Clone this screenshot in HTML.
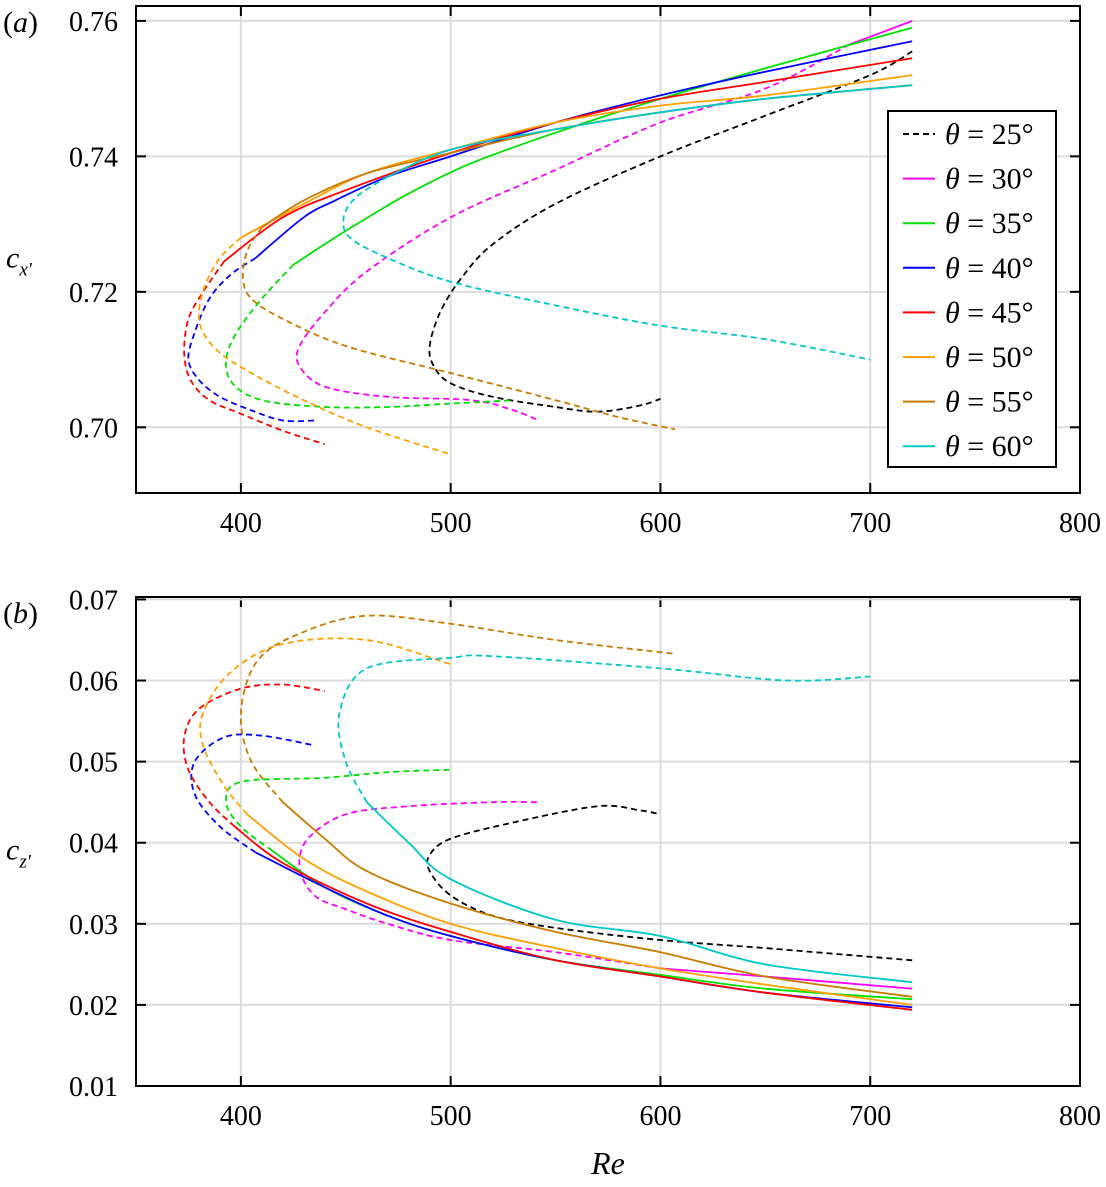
<!DOCTYPE html>
<html><head><meta charset="utf-8"><style>
body{margin:0;background:#fff}
svg{display:block;font-family:"Liberation Serif",serif}
</style></head><body>
<svg id="fig" width="1106" height="1187" viewBox="0 0 1106 1187" xmlns="http://www.w3.org/2000/svg"></svg>
<script>
const xTicks=[400,500,600,700,800];
const yTicksA=[0.70,0.72,0.74,0.76];
const yTicksB=[0.01,0.02,0.03,0.04,0.05,0.06,0.07];
const thetaLabels=[25,30,35,40,45,50,55,60];
const colors=["#000000","#ff00ff","#00e000","#0000ff","#ff0000","#ffa000","#c97a00","#00c8c8"];
// panel a: solid (Re, c) then dashed (Re, c)
const aSolidRe=[[],[720,690],[720,650,600,550,510,480,450,425],[720,650,600,550,500,470,445,430,407],[720,650,600,550,500,450,420,392],[720,650,600,550,500,460,430,400],[720,650,600,550,500,460,430,410],[720,650,600,550,500,470]];
const aSolidC=[[],[0.760,0.7565],[0.759,0.753,0.7485,0.7435,0.739,0.7345,0.729,0.724],[0.757,0.7525,0.749,0.745,0.740,0.737,0.7335,0.731,0.725],[0.7545,0.751,0.7485,0.745,0.7405,0.735,0.731,0.7245],[0.752,0.749,0.7475,0.745,0.741,0.7375,0.733,0.728],[0.7505,0.7485,0.7465,0.744,0.7405,0.7375,0.7335,0.7295],[0.7505,0.7485,0.7465,0.744,0.741,0.737]];
const aDashRe=[[720,700,650,600,550,520,505,495,490,492,500,520,550,570,590,600],[690,650,600,550,500,460,440,428,428,440,470,510,530,542],[425,410,398,393,396,410,440,470,500,530],[407,395,385,378,375,380,390,405,420,435],[392,382,375,373,376,385,400,420,440],[400,390,383,380,382,390,405,430,460,500],[410,403,401,405,420,450,500,550,580,607],[470,455,449,452,470,500,550,600,650,700]];
const aDashC=[[0.7555,0.752,0.746,0.740,0.733,0.727,0.722,0.717,0.712,0.709,0.7065,0.7045,0.703,0.7023,0.7032,0.7042],[0.7565,0.750,0.745,0.738,0.731,0.723,0.717,0.712,0.709,0.706,0.7045,0.704,0.7025,0.701],[0.724,0.719,0.714,0.710,0.7065,0.704,0.703,0.703,0.7035,0.704],[0.725,0.7225,0.719,0.714,0.710,0.707,0.7045,0.7025,0.701,0.701],[0.7245,0.720,0.716,0.711,0.707,0.704,0.702,0.6995,0.6975],[0.728,0.725,0.721,0.717,0.714,0.711,0.708,0.704,0.700,0.696],[0.7295,0.726,0.722,0.719,0.716,0.712,0.708,0.704,0.7015,0.6997],[0.737,0.734,0.731,0.728,0.725,0.7215,0.718,0.715,0.713,0.710]];
// panel b
const bSolidRe=[[],[720,650,600],[720,650,600,550,500,470,440,415],[720,650,600,550,500,470,440,407],[720,650,600,550,500,460,420,397],[720,650,600,550,500,460,430,403],[720,650,600,550,500,460,440,420],[720,650,600,550,500,480,460]];
const bSolidC=[[],[0.0220,0.0235,0.0245],[0.0207,0.022,0.0237,0.0255,0.0285,0.031,0.0345,0.039],[0.0197,0.0215,0.0235,0.0255,0.0285,0.031,0.0345,0.0388],[0.0194,0.0215,0.0235,0.0255,0.029,0.0325,0.0375,0.042],[0.0200,0.0225,0.0245,0.027,0.030,0.034,0.038,0.0435],[0.021,0.0235,0.0265,0.029,0.0325,0.0365,0.0405,0.045],[0.0228,0.025,0.0285,0.0305,0.0355,0.040,0.045]];
const bDashRe=[[720,650,600,550,520,500,490,490,500,530,570,590,600],[600,550,500,470,450,435,428,432,450,480,520,542],[415,400,393,400,440,470,500],[407,390,378,378,392,410,435],[397,385,375,373,380,400,420,440],[403,392,382,382,395,420,460,500],[420,405,400,408,430,460,500,550,607],[460,450,447,460,500,520,600,660,700]];
const bDashC=[[0.0255,0.027,0.028,0.0295,0.031,0.0335,0.0365,0.0385,0.0405,0.0425,0.0445,0.044,0.0435],[0.0245,0.0265,0.028,0.030,0.0318,0.0335,0.037,0.0405,0.0435,0.0445,0.045,0.045],[0.039,0.042,0.045,0.0475,0.048,0.0487,0.049],[0.0388,0.042,0.046,0.050,0.053,0.0532,0.052],[0.042,0.045,0.049,0.053,0.0565,0.059,0.0595,0.0587],[0.0435,0.047,0.052,0.056,0.061,0.0645,0.065,0.062],[0.045,0.050,0.056,0.0625,0.066,0.068,0.067,0.065,0.0633],[0.045,0.050,0.056,0.0615,0.0628,0.063,0.0615,0.060,0.0605]];

const NS="http://www.w3.org/2000/svg";
const svg=document.getElementById('fig');
function mk(t,a,p){const e=document.createElementNS(NS,t);for(const k in a)e.setAttribute(k,a[k]);(p||svg).appendChild(e);return e;}
const L=136,R=1080;
const xs=v=>L+(v-350)*(R-L)/450;
function smooth(P){
  let d='M'+P[0][0].toFixed(1)+','+P[0][1].toFixed(1);
  for(let i=0;i<P.length-1;i++){
    const p0=P[Math.max(0,i-1)],p1=P[i],p2=P[i+1],p3=P[Math.min(P.length-1,i+2)];
    const c1=[p1[0]+(p2[0]-p0[0])/6,p1[1]+(p2[1]-p0[1])/6];
    const c2=[p2[0]-(p3[0]-p1[0])/6,p2[1]-(p3[1]-p1[1])/6];
    d+=' C'+c1.map(v=>v.toFixed(1))+' '+c2.map(v=>v.toFixed(1))+' '+p2.map(v=>v.toFixed(1));
  }
  return d;
}
function panel(id,top,bot,ymin,ymax,yTicks,fmt,sRe,sC,dRe,dC,label,ysub){
  const g=mk('g',{});
  
  
  const ys=v=>bot-(v-ymin)*(bot-top)/(ymax-ymin);
  xTicks.forEach(t=>{const x=xs(t);
    if(t<800){const gl=mk('line',{x1:x,x2:x,y1:top,y2:bot,stroke:'#dcdcdc','stroke-width':2},g);}
    mk('line',{x1:x,x2:x,y1:bot,y2:bot-10,stroke:'#000','stroke-width':2},g);
    mk('line',{x1:x,x2:x,y1:top,y2:top+10,stroke:'#000','stroke-width':2},g);
    const tx=mk('text',{x:x,y:bot+39,'font-size':28,'text-anchor':'middle'},g);tx.textContent=t;
    });
  yTicks.forEach(t=>{const y=ys(t);
    const gl=mk('line',{x1:L,x2:R,y1:y,y2:y,stroke:'#dcdcdc','stroke-width':2},g);
    mk('line',{x1:L,x2:L+10,y1:y,y2:y,stroke:'#000','stroke-width':2},g);
    mk('line',{x1:R,x2:R-10,y1:y,y2:y,stroke:'#000','stroke-width':2},g);
    const tx=mk('text',{x:118,y:y+10,'font-size':28,'text-anchor':'end'},g);tx.textContent=t.toFixed(fmt);
    });
  const pts=(a,b)=>a.map((r,i)=>[xs(r),ys(b[i])]);
  for(let k=0;k<8;k++){
    if(dRe[k].length){const p=mk('path',{d:smooth(pts(dRe[k],dC[k])),fill:'none',stroke:colors[k],'stroke-width':1.8,'stroke-dasharray':'6,4'},g);
      }
    if(sRe[k].length){const p=mk('path',{d:smooth(pts(sRe[k],sC[k])),fill:'none',stroke:colors[k],'stroke-width':1.8},g);
      }
  }
  const fr=mk('rect',{x:L,y:top,width:R-L,height:bot-top,fill:'none',stroke:'#000','stroke-width':2},g);
  
  const pl=mk('text',{x:3,y:top+26,'font-size':30},g);pl.innerHTML='(<tspan font-style="italic">'+label+'</tspan>)';
  
  const yl=mk('text',{x:6,y:(top+bot)/2+18,'font-size':30,'font-style':'italic'},g);
  yl.innerHTML='c<tspan font-size="19" dy="8">'+ysub+'′</tspan>';
  
  return g;
}
panel('panel-a',6,493,0.6903,0.7622,yTicksA,2,aSolidRe,aSolidC,aDashRe,aDashC,'a','x');
panel('panel-b',597,1086,0.01,0.0703,yTicksB,2,bSolidRe,bSolidC,bDashRe,bDashC,'b','z');
const xl=mk('text',{x:608,y:1174,'font-size':32,'font-style':'italic','text-anchor':'middle'});xl.textContent='Re';

// legend
const lg=mk('g',{});


mk('rect',{x:888,y:111,width:168,height:356,fill:'#fff',stroke:'#000','stroke-width':2},lg);
thetaLabels.forEach((t,k)=>{const y=134+k*44.6;
  const ln=mk('line',{x1:903,x2:935,y1:y,y2:y,stroke:colors[k],'stroke-width':2,'stroke-dasharray':k===0?'6,4':'none'},lg);
  
  const tx=mk('text',{x:945,y:y+10,'font-size':30},lg);
  tx.innerHTML='<tspan font-style="italic">θ</tspan> = '+t+'°';
  });
</script>
</body></html>
